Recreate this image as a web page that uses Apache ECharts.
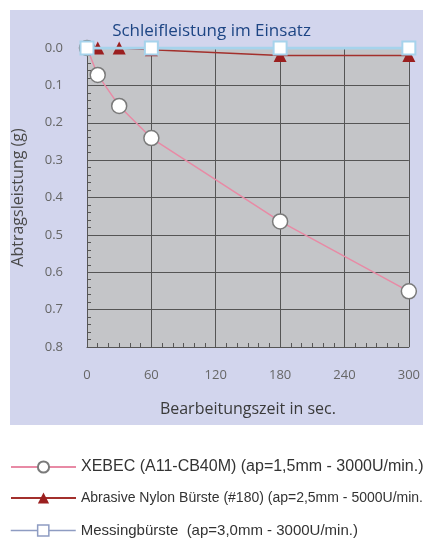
<!DOCTYPE html>
<html>
<head>
<meta charset="utf-8">
<script src="https://cdn.jsdelivr.net/npm/echarts@6/dist/echarts.min.js"></script>
<style>html,body{margin:0;padding:0;background:#fff}#c{width:423px;height:540px}</style>
</head>
<body>
<div id="c"></div>
<script>
var title = 'Schleifleistung im Einsatz';
var xTicks = [0, 60, 120, 180, 240, 300];
var yTicks = [0.0, 0.1, 0.2, 0.3, 0.4, 0.5, 0.6, 0.7, 0.8];
var seriesNames = [
  'XEBEC (A11-CB40M) (ap=1,5mm - 3000U/min.)',
  'Abrasive Nylon Bürste (#180) (ap=2,5mm - 5000U/min.)',
  'Messingbürste  (ap=3,0mm - 3000U/min.)'
];
var xebecX = [0, 10, 30, 60, 180, 300];
var xebecY = [0, 0.072, 0.155, 0.241, 0.464, 0.651];
var nylonX = [0, 10, 30, 60, 180, 300];
var nylonY = [0, 0, 0, 0.005, 0.02, 0.02];
var messingX = [0, 60, 180, 300];
var messingY = [0, 0, 0, 0];

function pairs(xs, ys) { return xs.map(function (x, i) { return [x, ys[i]]; }); }

var chart = echarts.init(document.getElementById('c'), null, {renderer: 'canvas'});
var axisFont = 'Open Sans, sans-serif';
var legendFont = 'Liberation Sans, sans-serif';
function legendFor(item, top) {
  return {
    orient: 'vertical', left: 10, top: top, padding: 0,
    itemWidth: 65, itemHeight: 14, itemGap: 0,
    textStyle: {fontFamily: legendFont, fontSize: 15, color: '#333'},
    data: [item]
  };
}
chart.setOption({
  backgroundColor: '#ffffff',
  animation: false,
  graphic: [{
    type: 'rect', z: -10, silent: true,
    shape: {x: 10, y: 10, width: 413, height: 415},
    style: {fill: '#d2d5ed'}
  }],
  title: {
    text: title, left: 'center', top: 18,
    textStyle: {fontFamily: axisFont, fontSize: 17, fontWeight: 'normal', color: '#1d4584'}
  },
  grid: {
    left: 87, right: 12, top: 48, bottom: 193,
    show: true, backgroundColor: '#c4c5c8', borderWidth: 0
  },
  legend: [
    legendFor({name: seriesNames[0], textStyle: {fontSize: 16}}, 459),
    legendFor({name: seriesNames[1], textStyle: {fontSize: 14}}, 491),
    legendFor({name: seriesNames[2], textStyle: {fontSize: 15},
      lineStyle: {color: '#8e9cc2', width: 1.5},
      itemStyle: {color: '#ffffff', borderColor: '#8e9cc2', borderWidth: 1.5}}, 523)
  ],
  xAxis: {
    type: 'value', min: 0, max: 300, interval: 60,
    name: 'Bearbeitungszeit in sec.', nameLocation: 'middle', nameGap: 54,
    nameTextStyle: {fontFamily: axisFont, fontSize: 16, color: '#3a3a3a'},
    axisLine: {show: true, onZero: false, lineStyle: {color: '#555', width: 1}},
    axisTick: {show: true, inside: true, length: 5, lineStyle: {color: '#555'}},
    minorTick: {show: true, splitNumber: 6, length: 4, lineStyle: {color: '#555'}},
    splitLine: {show: true, lineStyle: {color: '#555', width: 1}},
    axisLabel: {margin: 22, fontFamily: axisFont, fontSize: 13, color: '#666',
      formatter: function (v) { return xTicks.indexOf(v) >= 0 ? String(v) : ''; }}
  },
  yAxis: {
    type: 'value', min: 0, max: 0.8, interval: 0.1, inverse: true,
    name: 'Abtragsleistung (g)', nameLocation: 'middle', nameGap: 61, nameRotate: 90,
    nameTextStyle: {fontFamily: axisFont, fontSize: 16, color: '#4a4a4a'},
    axisLine: {show: true, lineStyle: {color: '#555', width: 1}},
    axisTick: {show: true, inside: true, length: 5, lineStyle: {color: '#555'}},
    minorTick: {show: true, splitNumber: 5, length: 4, lineStyle: {color: '#555'}},
    splitLine: {show: true, lineStyle: {color: '#555', width: 1}},
    axisLabel: {margin: 24, fontFamily: axisFont, fontSize: 13, color: '#666',
      formatter: function (v) { return v.toFixed(1); }}
  },
  series: [{
    name: seriesNames[0], type: 'line', data: pairs(xebecX, xebecY),
    symbol: 'circle', symbolSize: 15, z: 2,
    lineStyle: {color: '#e88aa5', width: 1.5},
    itemStyle: {color: '#ffffff', borderColor: '#7a7a7a', borderWidth: 1.5}
  }, {
    name: seriesNames[1], type: 'line', data: pairs(nylonX, nylonY),
    symbol: 'triangle', symbolSize: 13, z: 3,
    lineStyle: {color: '#a3302c', width: 1.5},
    itemStyle: {color: '#9b1f1f', borderColor: '#9b1f1f', borderWidth: 0}
  }, {
    name: seriesNames[2], type: 'line', data: pairs(messingX, messingY),
    symbol: 'rect', symbolSize: 13, z: 4,
    lineStyle: {color: '#a6d3ec', width: 3},
    itemStyle: {color: '#ffffff', borderColor: '#a6d3ec', borderWidth: 2}
  }]
});
</script>
</body>
</html>
